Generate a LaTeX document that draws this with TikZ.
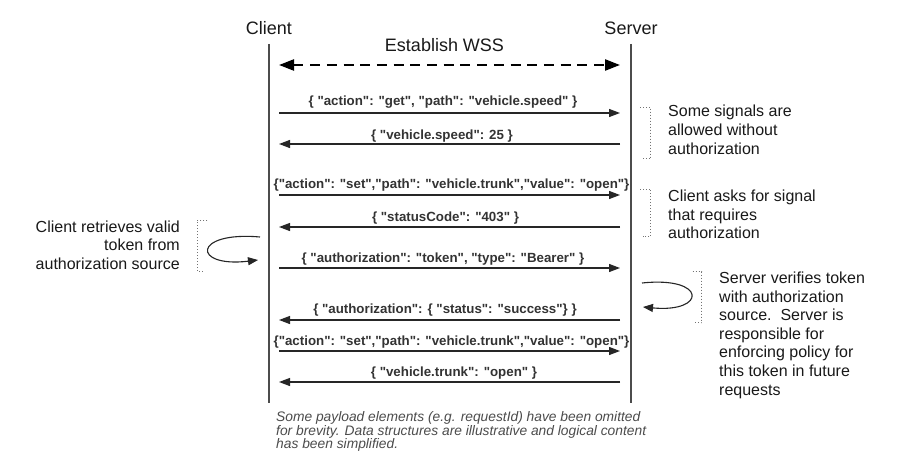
\documentclass[tikz,border=0pt]{standalone}
\usepackage{fontspec}
\setmainfont{Liberation Sans}[Ligatures=TeXOff]
\usetikzlibrary{arrows.meta}
\newcommand{\myq}{\symbol{34}}
\begin{document}
\begin{tikzpicture}[x=1pt,y=-1pt,
  lifeline/.style={line width=1.3pt, draw=black!70},
  msg/.style={line width=1.2pt, draw=black!85, -{Triangle[length=11pt,width=8pt]}},
  wss/.style={line width=2.3pt, draw=black, dash pattern=on 10pt off 6.7pt, {Triangle[length=15pt,width=11pt]}-{Triangle[length=15pt,width=11pt]}},
  lbl/.style={font=\fontsize{13.3}{15}\selectfont\bfseries, text=black!80, inner sep=0pt, anchor=base},
  actor/.style={font=\fontsize{18}{21}\selectfont, text=black!90, inner sep=0pt, anchor=base},
  note/.style={font=\fontsize{16}{18.6}\selectfont, text=black!90, inner sep=0pt, align=left, anchor=north west},
  brk/.style={draw=black!55, line width=0.9pt, dash pattern=on 0.9pt off 2.1pt},
  selfloop/.style={line width=1.1pt, draw=black!85, -{Triangle[length=10pt,width=8pt]}},
  foot/.style={font=\fontsize{13.8}{13.4}\selectfont\itshape, text=black!70, inner sep=0pt, align=left, anchor=north west},
]
\fill[white] (0,0) rectangle (900,460);
\useasboundingbox (0,0) rectangle (900,460);

% actors and lifelines
\node[actor] (client) at (269,34.3) {Client};
\node[actor] (server) at (631,34.3) {Server};
\coordinate (ctop) at (269,44); \coordinate (cbot) at (269,403);
\coordinate (stop) at (631,44); \coordinate (sbot) at (631,403);
\draw[lifeline] (ctop) -- (cbot);
\draw[lifeline] (stop) -- (sbot);

% message end points
\foreach \n/\y in {0/65,1/113,2/144,3/195,4/227,5/268,6/320,7/351,8/382} {
  \coordinate (c\n) at (279,\y);
  \coordinate (s\n) at (620,\y);
}

% establish WSS
\node[actor] (wsslbl) at (444.5,51.5) {Establish WSS};
\draw[wss] (c0) -- (s0);

% messages
\draw[msg] (c1) -- (s1);
\node[lbl] (m1) at (443,105) {\{ \myq action\myq: \myq get\myq, \myq path\myq: \myq vehicle.speed\myq\ \}};
\draw[msg] (s2) -- (c2);
\node[lbl] (m2) at (442,139.3) {\{ \myq vehicle.speed\myq: 25 \}};
\draw[msg] (c3) -- (s3);
\node[lbl] (m3) at (451.5,188.3) {\{\myq action\myq: \myq set\myq,\myq path\myq: \myq vehicle.trunk\myq,\myq value\myq: \myq open\myq\}};
\draw[msg] (s4) -- (c4);
\node[lbl] (m4) at (445.5,221.7) {\{ \myq statusCode\myq: \myq 403\myq\ \}};
\draw[msg] (c5) -- (s5);
\node[lbl] (m5) at (443,262.7) {\{ \myq authorization\myq: \myq token\myq, \myq type\myq: \myq Bearer\myq\ \}};
\draw[msg] (s6) -- (c6);
\node[lbl] (m6) at (445,313.3) {\{ \myq authorization\myq: \{ \myq status\myq: \myq success\myq\} \}};
\draw[msg] (c7) -- (s7);
\node[lbl] (m7) at (451.5,345) {\{\myq action\myq: \myq set\myq,\myq path\myq: \myq vehicle.trunk\myq,\myq value\myq: \myq open\myq\}};
\draw[msg] (s8) -- (c8);
\node[lbl] (m8) at (454,376) {\{ \myq vehicle.trunk\myq: \myq open\myq\ \}};

% right notes with dotted brackets
\draw[brk] (640,107.3) -- (650.7,107.3) -- (650.7,158.3) -- (643,158.3);
\node[note] (n1) at (668,105.2) {Some signals are\\allowed without\\authorization};
\draw[brk] (640,189) -- (650.7,189) -- (650.7,236.7) -- (643,236.7);
\node[note] (n2) at (668,190) {Client asks for signal\\that requires\\authorization};
\draw[brk] (692.7,271.7) -- (701.7,271.7) -- (701.7,322.7) -- (695,322.7);
\node[note] (n3) at (719,271.8) {Server verifies token\\with authorization\\source.\ \ Server is\\responsible for\\enforcing policy for\\this token in future\\requests};

% left note
\draw[brk] (207.3,220) -- (197.3,220) -- (197.3,271) -- (205,271);
\node[note, align=right, anchor=north east] (n0) at (180,220.5) {Client retrieves valid\\token from\\authorization source};

% self loops
\coordinate (la) at (260,237); \coordinate (lb) at (258,260);
\draw[selfloop] (la) .. controls (192,231) and (192,268) .. (lb);
\coordinate (ra) at (642,283); \coordinate (rb) at (643,307);
\draw[selfloop] (ra) .. controls (707,276) and (707,313) .. (rb);

% footnote
\node[foot] (fn) at (276,411.6) {Some payload elements (e.g. requestId) have been omitted\\for brevity. Data structures are illustrative and logical content\\has been simplified.};
\end{tikzpicture}
\end{document}
